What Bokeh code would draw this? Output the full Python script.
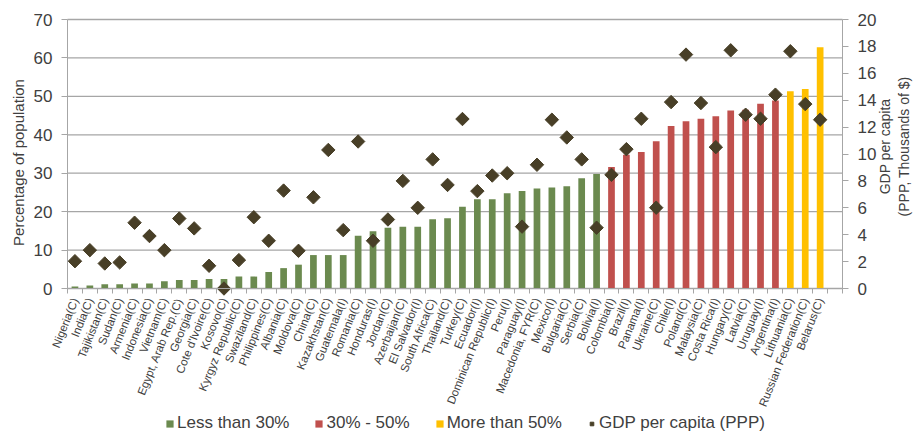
import math
from bokeh.plotting import figure
from bokeh.models import (Range1d, LinearAxis, FixedTicker, Legend, LegendItem, Label)
from bokeh.embed import file_html
from bokeh.resources import INLINE

countries = ["Nigeria(C)", "India(C)", "Tajikistan(C)", "Sudan(C)", "Armenia(C)", "Indonesia(C)",
             "Vietnam(C)", "Egypt, Arab Rep.(C)", "Georgia(C)", "Cote d'Ivoire(C)", "Kosovo(C)",
             "Kyrgyz Republic(C)", "Swaziland(C)", "Philippines(C)", "Albania(C)", "Moldova(C)",
             "China(C)", "Kazakhstan(C)", "Guatemala(I)", "Romania(C)", "Honduras(I)", "Jordan(C)",
             "Azerbaijan(C)", "El Salvador(I)", "South Africa(C)", "Thailand(C)", "Turkey(C)",
             "Ecuador(I)", "Dominican Republic(I)", "Peru(I)", "Paraguay(I)", "Macedonia, FYR(C)",
             "Mexico(I)", "Bulgaria(C)", "Serbia(C)", "Bolivia(I)", "Colombia(I)", "Brazil(I)",
             "Panama(I)", "Ukraine(C)", "Chile(I)", "Poland(C)", "Malaysia(C)", "Costa Rica(I)",
             "Hungary(C)", "Latvia(C)", "Uruguay(I)", "Argentina(I)", "Lithuania(C)",
             "Russian Federation(C)", "Belarus(C)"]

pct = [0.5, 0.8, 1.1, 1.1, 1.3, 1.3, 1.9, 2.2, 2.2, 2.5,
       2.5, 3.1, 3.1, 4.3, 5.3, 6.2, 8.7, 8.7, 8.7, 13.7,
       14.9, 15.8, 16.1, 16.1, 18.0, 18.3, 21.3, 23.2, 23.2, 24.8,
       25.4, 26.0, 26.3, 26.6, 28.7, 29.8, 31.6, 34.8, 35.5, 38.3,
       42.3, 43.5, 44.2, 44.8, 46.3, 46.5, 48.1, 48.9, 51.3, 51.9, 62.8]

gdp = [2.03, 2.85, 1.86, 1.94, 4.89, 3.9, 2.85, 5.2, 4.47, 1.69,
       0.0, 2.11, 5.3, 3.55, 7.28, 2.8, 6.78, 10.3, 4.34, 10.93,
       3.55, 5.13, 8.0, 6.0, 9.6, 7.7, 12.6, 7.24, 8.4, 8.57,
       4.6, 9.2, 12.55, 11.23, 9.6, 4.52, 8.45, 10.36, 12.62, 6.01,
       13.86, 17.39, 13.79, 10.51, 17.71, 12.92, 12.62, 14.41, 17.64, 13.71, 12.55]

group_labels = ["Less than 30%", "30% - 50%", "More than 50%"]
group_colors = ["#6B8A4F", "#C0504D", "#FFC000"]
gdp_label = "GDP per capita (PPP)"
left_title = "Percentage of population"
right_title = "GDP per capita\n(PPP, Thousands of $)"
left_ticks = [0, 10, 20, 30, 40, 50, 60, 70]
right_ticks = [0, 2, 4, 6, 8, 10, 12, 14, 16, 18, 20]

FONT = "Liberation Sans"
TXT = "#404040"
GRID = "#A6A6A6"

n = len(countries)
xs = [i + 1 for i in range(n)]

def grp(v):
    return 0 if v < 30 else (1 if v <= 50 else 2)

# geometry: the frame covers the whole canvas; the plotting band is placed inside it
W, H = 920, 437
BAND_L, BAND_R, BAND_T, BAND_B = 67, 842, 19, 288
PCT_MAX, GDP_MAX = 70.0, 20.0
X0, X1 = 0.5, n + 1.5
ux = (BAND_R - BAND_L) / (X1 - X0)
uy = (BAND_B - BAND_T) / PCT_MAX
x_lo, x_hi = X0 - BAND_L / ux, X1 + (W - BAND_R) / ux
y_lo, y_hi = -(H - BAND_B) / uy, PCT_MAX + BAND_T / uy
k = GDP_MAX / PCT_MAX

def px_x(px):
    return x_lo + px / ux

def px_y(py):
    return y_lo + (H - py) / uy

p = figure(frame_width=W, frame_height=H, output_backend="svg", toolbar_location=None,
           x_range=Range1d(x_lo, x_hi), y_range=Range1d(y_lo, y_hi),
           min_border=0)
p.extra_y_ranges = {"gdp": Range1d(y_lo * k, y_hi * k)}
p.outline_line_color = None
p.background_fill_color = "white"
p.border_fill_color = "white"
p.xgrid.grid_line_color = None
p.ygrid.grid_line_color = None

# horizontal gridlines across the plotting band
p.segment(x0=[X0] * len(left_ticks), x1=[X1] * len(left_ticks), y0=left_ticks, y1=left_ticks,
          line_color=GRID, line_width=1.3)

items = []
for g in range(3):
    gx = [x for x, v in zip(xs, pct) if grp(v) == g]
    gv = [v for v in pct if grp(v) == g]
    r = p.vbar(x=gx, top=gv, width=0.45, fill_color=group_colors[g], line_color=None)
    items.append(LegendItem(label=group_labels[g], renderers=[r]))

sr = p.scatter(x=xs, y=gdp, y_range_name="gdp", marker="square", angle=math.pi / 4,
               size=9.5, fill_color="#483F27", line_color="#483F27")
items.append(LegendItem(label=gdp_label, renderers=[sr]))

# x axis, drawn at y = 0
xa = p.xaxis[0]
xa.fixed_location = 0
xa.bounds = (X0, X1)
xa.ticker = FixedTicker(ticks=xs, minor_ticks=[i + 0.5 for i in range(n + 2)])
xa.major_label_overrides = {x: c for x, c in zip(xs, countries)}
xa.major_label_orientation = 1.19
xa.major_label_text_font = FONT
xa.major_label_text_font_size = "11.5px"
xa.major_label_text_color = TXT
xa.major_tick_line_color = None
xa.minor_tick_in = 0
xa.minor_tick_out = 5
xa.minor_tick_line_color = GRID
xa.axis_line_color = GRID
xa.major_label_standoff = 4

# left axis, drawn at x = X0
ya = p.yaxis[0]
ya.fixed_location = X0
ya.ticker = FixedTicker(ticks=left_ticks)
ya.bounds = (0, PCT_MAX)
ya.major_label_text_font = FONT
ya.major_label_text_font_size = "17px"
ya.major_label_text_color = TXT
ya.major_label_standoff = 9
ya.major_tick_in = 0
ya.major_tick_out = 6
ya.major_tick_line_color = GRID
ya.minor_tick_line_color = None
ya.axis_line_color = GRID

# right axis, drawn at x = X1
ra = LinearAxis(y_range_name="gdp", ticker=FixedTicker(ticks=right_ticks), bounds=(0, GDP_MAX))
ra.fixed_location = X1
ra.major_label_text_font = FONT
ra.major_label_text_font_size = "17px"
ra.major_label_text_color = TXT
ra.major_label_standoff = 9
ra.major_tick_in = 0
ra.major_tick_out = 6
ra.major_tick_line_color = GRID
ra.minor_tick_line_color = None
ra.axis_line_color = GRID
p.add_layout(ra, "right")

# axis titles
p.add_layout(Label(x=px_x(18), y=px_y(162), text=left_title, angle=math.pi / 2,
                   text_font=FONT, text_font_size="15px", text_color=TXT,
                   text_align="center", text_baseline="middle"))
p.add_layout(Label(x=px_x(894), y=px_y(146), text=right_title, angle=math.pi / 2,
                   text_font=FONT, text_font_size="14px", text_color=TXT,
                   text_align="center", text_baseline="middle"))

legend = Legend(items=items, orientation="horizontal", location=(165, 4),
                label_text_font=FONT, label_text_font_size="17px", label_text_color=TXT,
                glyph_width=9, glyph_height=9, spacing=25, label_standoff=3,
                border_line_color=None, background_fill_alpha=0, padding=4, margin=0)
p.add_layout(legend, "center")

open("out.html", "w").write(file_html(p, INLINE))
